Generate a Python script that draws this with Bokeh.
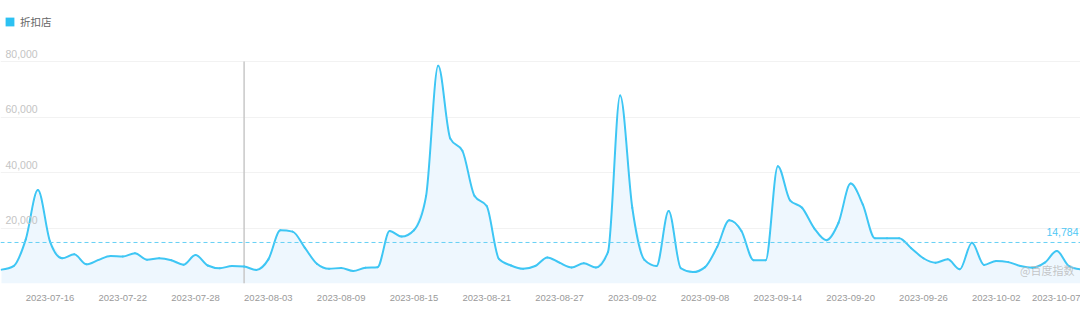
import numpy as np
import pandas as pd
from bokeh.plotting import figure
from bokeh.models import Range1d, FixedTicker, DatetimeTickFormatter, Span, Label, ColumnDataSource
from bokeh.core.properties import value
from bokeh.embed import file_html
from bokeh.resources import INLINE

# ---------------- data ----------------
series_name = "折扣店"
start_date = "2023-07-12"
values = [5000, 6300, 15900, 33700, 15100, 9100, 10500, 6900, 8500, 9900,
          9700, 10900, 8600, 9100, 8400, 6800, 10300, 6500, 5500, 6300,
          6100, 4900, 8700, 19200, 18700, 12900, 7100, 5300, 5600, 4500,
          5700, 5900, 18900, 16900, 19200, 31500, 78500, 52200, 47800, 31500,
          27900, 8900, 6500, 5300, 6300, 9400, 7500, 5800, 7300, 5800,
          11400, 67800, 27300, 8500, 6300, 26100, 5500, 4100, 5900, 13200,
          22800, 18900, 8400, 8400, 42300, 30000, 27300, 19900, 15600, 21900,
          36000, 28500, 16300, 16300, 16300, 12700, 9100, 7500, 8700, 5100,
          14700, 6700, 8100, 7700, 6300, 5700, 7500, 11700, 6300, 5100]
average_value = 14784
average_label = "14,784"
cursor_date = "2023-08-01"
x_tick_dates = ["2023-07-16", "2023-07-22", "2023-07-28", "2023-08-03", "2023-08-09",
                "2023-08-15", "2023-08-21", "2023-08-27", "2023-09-02", "2023-09-08",
                "2023-09-14", "2023-09-20", "2023-09-26", "2023-10-02", "2023-10-07"]
y_tick_values = [20000, 40000, 60000, 80000]
y_tick_labels = ["20,000", "40,000", "60,000", "80,000"]
watermark = "@百度指数"

# ---------------- styling ----------------
LINE = "#3ec6f4"
FILL = "#eef7fe"
LEG = "#2cc1f2"
AVG = "#66d0f5"

DAY = 86400000.0
dates = pd.date_range(start_date, periods=len(values), freq="D")
xs = (dates.astype("int64") // 10**6).to_numpy().astype(float)
ys = np.array(values, dtype=float)
t0 = xs[0]

W, H = 1080, 309
FRAME_H = 283
p = figure(width=W, height=H, output_backend="svg", toolbar_location=None,
           x_axis_type="datetime", y_axis_location=None,
           x_range=Range1d(t0 - 0.0824 * DAY, t0 + 88.95 * DAY),
           y_range=Range1d(0, 102000),
           min_border_left=0, min_border_right=0, min_border_top=0,
           min_border_bottom=H - FRAME_H)
p.outline_line_color = None
p.background_fill_color = "white"
p.xgrid.visible = False
p.ygrid.ticker = FixedTicker(ticks=y_tick_values)
p.ygrid.grid_line_color = "#f2f2f2"
p.ygrid.grid_line_width = 1

# x axis
tick_ms = [float(pd.Timestamp(d).value // 10**6) for d in x_tick_dates]
p.xaxis.ticker = FixedTicker(ticks=tick_ms)
p.xaxis.formatter = DatetimeTickFormatter(days="%Y-%m-%d", months="%Y-%m-%d")
p.xaxis.axis_line_color = None
p.xaxis.major_tick_line_color = None
p.xaxis.minor_tick_line_color = None
p.xaxis.major_label_standoff = 5
p.xaxis.major_label_text_font_size = "9.5px"
p.xaxis.major_label_text_color = "#9a9a9a"
p.xaxis.major_label_text_font = "Liberation Sans"

# area
p.varea(x=xs, y1=0, y2=ys, fill_color=FILL, fill_alpha=1.0)

# cursor line
cx = float(pd.Timestamp(cursor_date).value // 10**6)
p.segment(x0=[cx], y0=[0], x1=[cx], y1=[y_tick_values[-1]], line_color="#c8c8c8", line_width=1.5)

# average line
p.add_layout(Span(location=average_value, dimension="width", line_color=AVG,
                  line_dash="4 3", line_width=1))

# smooth line (monotone cubic bezier through the daily points)
n = len(ys)
h = DAY
s = np.diff(ys) / h
m = np.zeros(n)
for i in range(1, n - 1):
    s0, s1 = s[i - 1], s[i]
    if s0 * s1 <= 0:
        m[i] = 0.0
    else:
        pp = (s0 + s1) / 2
        m[i] = np.sign(s0) * 2 * min(abs(s0), abs(s1), 0.5 * abs(pp))
m[0] = (3 * s[0] - m[1]) / 2
m[-1] = (3 * s[-1] - m[-2]) / 2
src = ColumnDataSource(dict(
    x0=xs[:-1], y0=ys[:-1], x1=xs[1:], y1=ys[1:],
    cx0=xs[:-1] + h / 3, cy0=ys[:-1] + m[:-1] * h / 3,
    cx1=xs[1:] - h / 3, cy1=ys[1:] - m[1:] * h / 3))
p.bezier(x0="x0", y0="y0", x1="x1", y1="y1", cx0="cx0", cy0="cy0", cx1="cx1", cy1="cy1",
         source=src, line_color=LINE, line_width=2, line_cap="round")

# y tick labels drawn inside the plot, above grid lines
p.text(x=[t0 - 0.0824 * DAY] * len(y_tick_values), y=y_tick_values, text=y_tick_labels,
       x_offset=5, y_offset=-8, text_baseline="alphabetic", text_align="left",
       text_font=value("Liberation Sans"), text_font_size="10.5px", text_color="#c4c4c4")

# average value label
p.text(x=[t0 + 88.95 * DAY], y=[average_value], text=[average_label],
       x_offset=-2, y_offset=-10, text_baseline="alphabetic", text_align="right",
       text_font=value("Liberation Sans"), text_font_size="10.5px", text_color="#4fc8f5")

# watermark
p.add_layout(Label(x=1074, y=FRAME_H - 269, x_units="screen", y_units="screen", text=watermark,
                   text_align="right", text_baseline="middle", text_font_size="11px",
                   text_font="Noto Sans CJK SC", text_color="#b8b8b8", text_alpha=0.8))

# legend via a renderer with no visible data
p.quad(left=np.array([np.nan]), right=np.array([np.nan]), top=np.array([np.nan]),
       bottom=np.array([np.nan]), fill_color=LEG, line_color=None,
       legend_label=series_name)
lg = p.legend[0]
lg.location = (4, FRAME_H - 29)
lg.glyph_width = 11
lg.glyph_height = 11
lg.label_height = 11
lg.label_standoff = 5
lg.padding = 0
lg.margin = 0
lg.spacing = 0
lg.border_line_color = None
lg.background_fill_alpha = 0
lg.label_text_font = "Noto Sans CJK SC"
lg.label_text_font_size = "10.5px"
lg.label_text_color = "#666666"
lg.label_text_baseline = "middle"

open("out.html", "w").write(file_html(p, INLINE))
